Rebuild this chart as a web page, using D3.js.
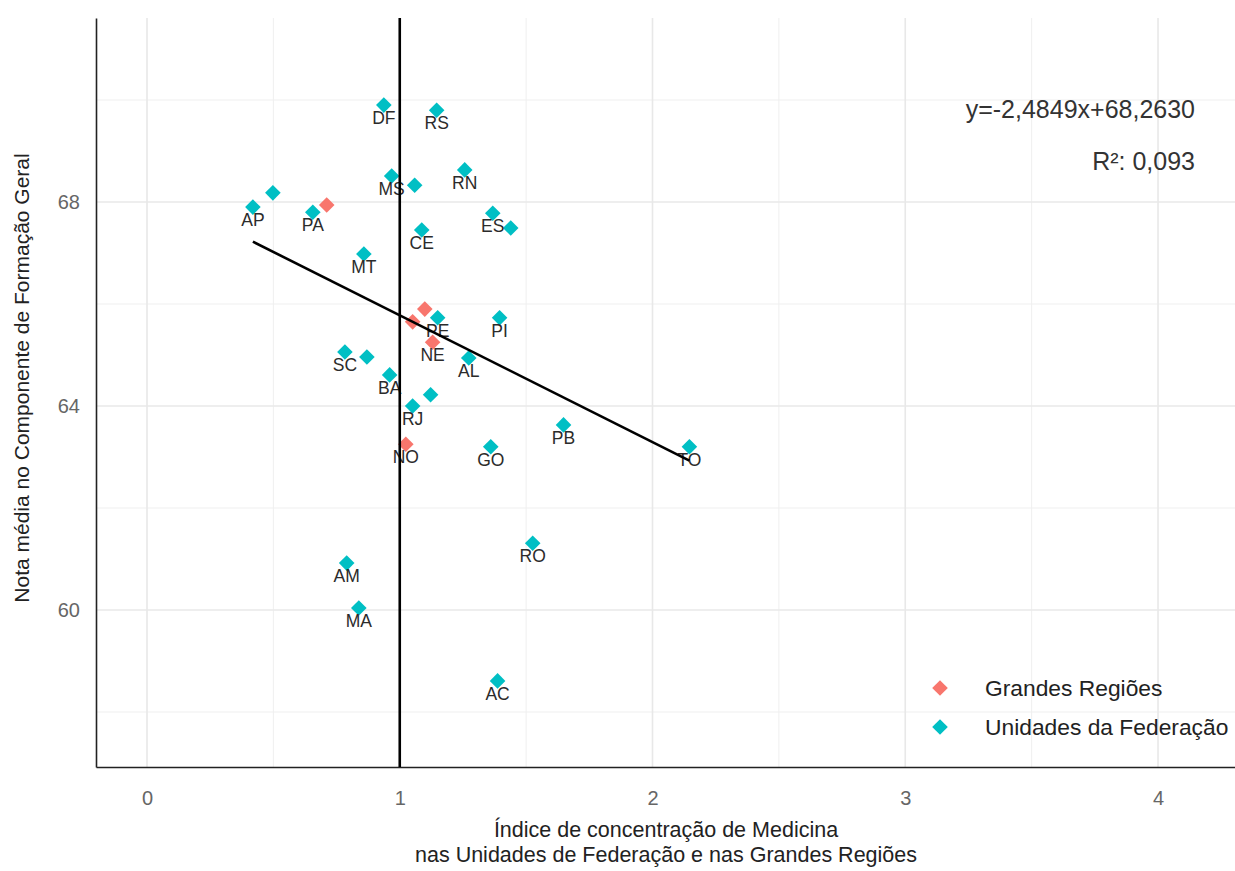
<!DOCTYPE html>
<html>
<head>
<meta charset="utf-8">
<script src="https://cdn.jsdelivr.net/npm/d3@7"></script>
<style>
  html, body { margin: 0; padding: 0; background: #fff; }
  svg { display: block; font-family: "Liberation Sans", Arial, sans-serif; }
</style>
</head>
<body>
<svg id="chart" width="1235" height="871"></svg>
<script>
// ---- data ----
const ufLabels = ["AP", "", "PA", "DF", "RS", "MS", "", "RN", "ES", "", "CE", "MT", "PE", "PI", "SC", "", "AL", "BA", "", "RJ", "GO", "PB", "TO", "RO", "AM", "MA", "AC"];
const ufX = [0.419, 0.498, 0.656, 0.937, 1.146, 0.968, 1.059, 1.257, 1.368, 1.439, 1.087, 0.858, 1.150, 1.395, 0.783, 0.870, 1.273, 0.960, 1.122, 1.051, 1.360, 1.648, 2.146, 1.526, 0.790, 0.838, 1.387];
const ufY = [67.90, 68.18, 67.80, 69.90, 69.80, 68.51, 68.33, 68.63, 67.78, 67.49, 67.45, 66.98, 65.73, 65.73, 65.06, 64.96, 64.94, 64.61, 64.22, 64.00, 63.20, 63.63, 63.20, 61.31, 60.92, 60.04, 58.61];

const regLabels = ["", "", "", "NE", "NO"];
const regX = [0.711, 1.099, 1.051, 1.130, 1.024];
const regY = [67.94, 65.90, 65.65, 65.25, 63.25];

const xTicks = [0, 1, 2, 3, 4];
const yTicks = [60, 64, 68];
const xMinor = [0.5, 1.5, 2.5, 3.5];
const yMinor = [58, 62, 66, 70];

const slope = -2.4849, intercept = 68.2630;
const eqText = "y=-2,4849x+68,2630";
const r2Text = "R²: 0,093";
const seriesNames = ["Grandes Regiões", "Unidades da Federação"];
const seriesColors = ["#F8766D", "#00BFC4"];
const xTitle = ["Índice de concentração de Medicina", "nas Unidades de Federação e nas Grandes Regiões"];
const yTitle = "Nota média no Componente de Formação Geral";

// ---- layout ----
const svg = d3.select("#chart");
const pL = 96, pR = 1235, pT = 18, pB = 767;
const x = d3.scaleLinear().domain([-0.2018, 4.3046]).range([pL, pR]);
const y = d3.scaleLinear().domain([56.922, 71.608]).range([pB, pT]);

const grid = svg.append("g");
grid.selectAll(".gxm").data(xMinor).join("line")
  .attr("x1", d => x(d)).attr("x2", d => x(d)).attr("y1", pT).attr("y2", pB)
  .attr("stroke", "#EFEFEF").attr("stroke-width", 1);
grid.selectAll(".gym").data(yMinor).join("line")
  .attr("y1", d => y(d)).attr("y2", d => y(d)).attr("x1", pL).attr("x2", pR)
  .attr("stroke", "#EFEFEF").attr("stroke-width", 1);
grid.selectAll(".gx").data(xTicks).join("line")
  .attr("x1", d => x(d)).attr("x2", d => x(d)).attr("y1", pT).attr("y2", pB)
  .attr("stroke", "#E8E8E8").attr("stroke-width", 1.6);
grid.selectAll(".gy").data(yTicks).join("line")
  .attr("y1", d => y(d)).attr("y2", d => y(d)).attr("x1", pL).attr("x2", pR)
  .attr("stroke", "#E8E8E8").attr("stroke-width", 1.6);

// axes
const xAxis = svg.append("g").attr("transform", `translate(0,${pB})`)
  .call(d3.axisBottom(x).tickValues(xTicks).tickSize(0).tickPadding(24).tickFormat(d3.format("d")));
const yAxis = svg.append("g").attr("transform", `translate(${pL},0)`)
  .call(d3.axisLeft(y).tickValues(yTicks).tickSize(0).tickPadding(16).tickFormat(d3.format("d")));
[xAxis, yAxis].forEach(a => {
  a.select(".domain").attr("stroke", "#222").attr("stroke-width", 1.6);
  a.selectAll("text").attr("fill", "#666").style("font-size", "20px")
    .style("font-family", "'Liberation Sans', Arial, sans-serif");
});
xAxis.selectAll("text").attr("dy", "0.71em");

// points
const diamond = "M0,-7.8L7.8,0L0,7.8L-7.8,0Z";
const uf = ufX.map((v, i) => ({x: v, y: ufY[i], label: ufLabels[i]}));
const reg = regX.map((v, i) => ({x: v, y: regY[i], label: regLabels[i]}));

svg.append("g").selectAll("path").data(uf).join("path")
  .attr("d", diamond).attr("transform", d => `translate(${x(d.x)},${y(d.y)})`)
  .attr("fill", seriesColors[1]);
svg.append("g").selectAll("path").data(reg).join("path")
  .attr("d", diamond).attr("transform", d => `translate(${x(d.x)},${y(d.y)})`)
  .attr("fill", seriesColors[0]);

const labs = svg.append("g").attr("font-size", 17.5).attr("fill", "#2b2b2b").attr("text-anchor", "middle");
labs.selectAll(".l").data(uf.concat(reg).filter(d => d.label)).join("text")
  .attr("x", d => x(d.x)).attr("y", d => y(d.y) + 19).text(d => d.label);

// vertical reference line at x=1
svg.append("line").attr("x1", x(1)).attr("x2", x(1)).attr("y1", pT).attr("y2", pB)
  .attr("stroke", "#000").attr("stroke-width", 2.6);

// regression line
const allX = ufX.concat(regX);
const x0 = d3.min(allX), x1 = d3.max(allX);
svg.append("line")
  .attr("x1", x(x0)).attr("y1", y(intercept + slope * x0))
  .attr("x2", x(x1)).attr("y2", y(intercept + slope * x1))
  .attr("stroke", "#000").attr("stroke-width", 2.6);

// annotations
svg.append("text").attr("x", 1195).attr("y", 118).attr("text-anchor", "end")
  .attr("font-size", 25).attr("fill", "#333").text(eqText);
svg.append("text").attr("x", 1195).attr("y", 170).attr("text-anchor", "end")
  .attr("font-size", 25).attr("fill", "#333").text(r2Text);

// legend
const leg = svg.append("g");
const legY = [688, 727];
seriesNames.forEach((n, i) => {
  leg.append("path").attr("d", diamond).attr("transform", `translate(940,${legY[i]})`).attr("fill", seriesColors[i]);
  leg.append("text").attr("x", 985).attr("y", legY[i]).attr("dy", "0.35em")
    .attr("font-size", 22.8).attr("fill", "#222").text(n);
});

// axis titles
svg.append("text").attr("x", 666).attr("y", 837).attr("text-anchor", "middle")
  .attr("font-size", 21.5).attr("fill", "#222").text(xTitle[0]);
svg.append("text").attr("x", 666).attr("y", 862).attr("text-anchor", "middle")
  .attr("font-size", 21.5).attr("fill", "#222").text(xTitle[1]);
svg.append("text").attr("transform", `translate(29,378) rotate(-90)`).attr("text-anchor", "middle")
  .attr("font-size", 21).attr("fill", "#222").text(yTitle);
</script>
</body>
</html>
